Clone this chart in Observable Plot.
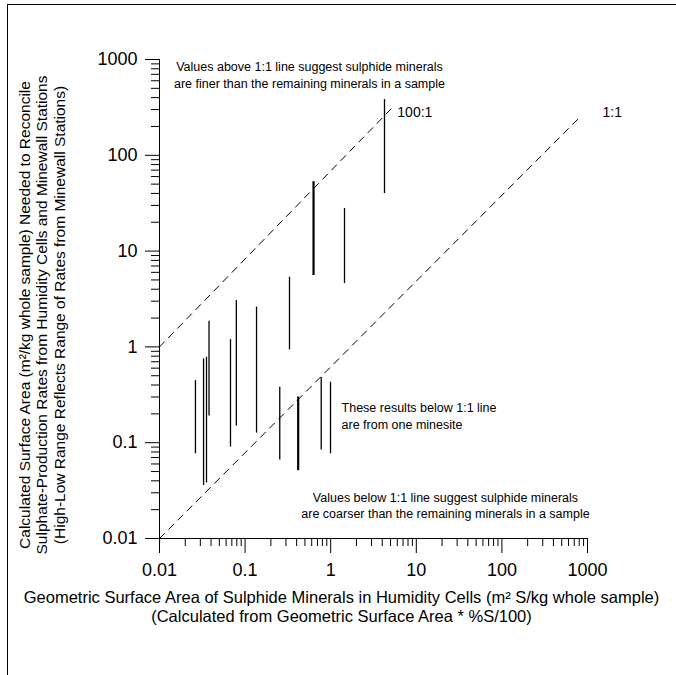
<!DOCTYPE html>
<html><head><meta charset="utf-8">
<script src="https://cdn.jsdelivr.net/npm/d3@7"></script>
<script src="https://cdn.jsdelivr.net/npm/@observablehq/plot@0.6"></script>
<style>
body{margin:0;background:#fff;}
#wrap{position:relative;width:676px;height:675px;overflow:hidden;}
#chart{position:absolute;left:0;top:0;}
#frame{position:absolute;left:7px;top:4px;right:-5px;bottom:-5px;border-left:1px solid #000;border-top:1px solid #000;pointer-events:none;}
</style></head><body>
<div id="wrap"><div id="chart"></div><div id="frame"></div></div>
<script>
// Geometric surface area of sulphide minerals (x) and calculated surface-area range (low/high)
const sampleGSA = [0.0263, 0.0327, 0.0354, 0.0379, 0.0675, 0.079, 0.136, 0.33, 0.63, 1.45, 4.25, 0.254, 0.417, 0.775, 0.995];
const calcLow   = [0.0766, 0.0357, 0.038, 0.19, 0.09, 0.149, 0.126, 0.93, 5.56, 4.59, 39.9, 0.066, 0.051, 0.084, 0.0766];
const calcHigh  = [0.446, 0.75, 0.78, 1.85, 1.19, 3.05, 2.6, 5.34, 53, 27.9, 382, 0.38, 0.30, 0.48, 0.428];

// Reference lines (as drawn)
const line100X = [0.01, 5.4];
const line100Y = [1, 323];
const line1X = [0.01, 828];
const line1Y = [0.01, 254];

// Tick labels
const majorTicks = [0.01, 0.1, 1, 10, 100, 1000];
const tickLabels = ["0.01", "0.1", "1", "10", "100", "1000"];

// Annotations
const noteText = [
  "Values above 1:1 line suggest sulphide minerals\nare finer than the remaining minerals in a sample",
  "These results below 1:1 line\nare from one minesite",
  "Values below 1:1 line suggest sulphide minerals\nare coarser than the remaining minerals in a sample"
];
const noteX = [0.565, 1.34, 21.9];
const noteY = [700, 0.193, 0.0225];
const lineLabels = ["100:1", "1:1"];
const lineLabelX = [6.0, 1500];
const lineLabelY = [280, 280];

const xTitle = "Geometric Surface Area of Sulphide Minerals in Humidity Cells (m² S/kg whole sample)\n(Calculated from Geometric Surface Area * %S/100)";
const yTitle = "Calculated Surface Area (m²/kg whole sample) Needed to Reconcile\nSulphate-Production Rates from Humidity Cells and Minewall Stations\n(High-Low Range Reflects Range of Rates from Minewall Stations)";

const bars = sampleGSA.map((x, i) => ({x, lo: calcLow[i], hi: calcHigh[i], i}));
const boldIdx = new Set([8, 12]);
const l100 = line100X.map((x, i) => ({x, y: line100Y[i]}));
const l1 = line1X.map((x, i) => ({x, y: line1Y[i]}));
const notes = noteText.map((t, i) => ({t, x: noteX[i], y: noteY[i]}));
const labs = lineLabels.map((t, i) => ({t, x: lineLabelX[i], y: lineLabelY[i]}));

const domain = [0.01, 1000];
const allTicks = d3.scaleLog().domain(domain).ticks();
const minorTicks = allTicks.filter(t => !majorTicks.some(m => Math.abs(Math.log10(m) - Math.log10(t)) < 1e-9));
const fmt = d => tickLabels[majorTicks.findIndex(m => Math.abs(Math.log10(m) - Math.log10(d)) < 1e-9)];

const font = "'Liberation Sans', Arial, sans-serif";

const chart = Plot.plot({
  width: 676, height: 675,
  marginLeft: 159, marginRight: 89, marginTop: 59, marginBottom: 137,
  style: {fontFamily: font, background: "transparent", color: "#000", overflow: "visible"},
  x: {type: "log", domain},
  y: {type: "log", domain},
  marks: [
    Plot.axisX({ticks: minorTicks, tickSize: 8, fill: "none", label: null}),
    Plot.axisX({ticks: majorTicks, tickSize: 15, tickPadding: 10, tickFormat: fmt, fontSize: 18, label: null}),
    Plot.axisY({ticks: minorTicks, tickSize: 8, fill: "none", label: null}),
    Plot.axisY({ticks: majorTicks, tickSize: 14, tickPadding: 8, tickFormat: fmt, fontSize: 18, label: null}),
    Plot.ruleX([0.01], {stroke: "#000"}),
    Plot.ruleY([0.01], {stroke: "#000"}),
    Plot.line(l100, {x: "x", y: "y", stroke: "#000", strokeWidth: 1, strokeDasharray: "7,6"}),
    Plot.line(l1, {x: "x", y: "y", stroke: "#000", strokeWidth: 1, strokeDasharray: "7,6"}),
    Plot.ruleX(bars, {x: "x", y1: "lo", y2: "hi", stroke: "#000", strokeWidth: d => boldIdx.has(d.i) ? 2.2 : 1.3}),
    Plot.text(notes.slice(0,1).concat(notes.slice(2)), {x: "x", y: "y", text: "t", fontSize: 12.5, textAnchor: "middle", lineAnchor: "middle", lineHeight: 1.3, fill: "#000"}),
    Plot.text(notes.slice(1,2), {x: "x", y: "y", text: "t", fontSize: 12.5, textAnchor: "start", lineAnchor: "middle", lineHeight: 1.3, fill: "#000"}),
    Plot.text(labs, {x: "x", y: "y", text: "t", fontSize: 14, textAnchor: "start", lineAnchor: "middle", fill: "#000"}),
    Plot.text([xTitle], {frameAnchor: "bottom", dx: -32, dy: 68, fontSize: 16.5, textAnchor: "middle", lineAnchor: "middle", lineHeight: 1.15, fill: "#000"}),
    Plot.text([yTitle], {frameAnchor: "left", rotate: -90, dx: -118, dy: 16, fontSize: 15.5, textAnchor: "middle", lineAnchor: "middle", lineHeight: 1.13, fill: "#000"})
  ]
});
document.getElementById("chart").appendChild(chart);
</script>
</body></html>
